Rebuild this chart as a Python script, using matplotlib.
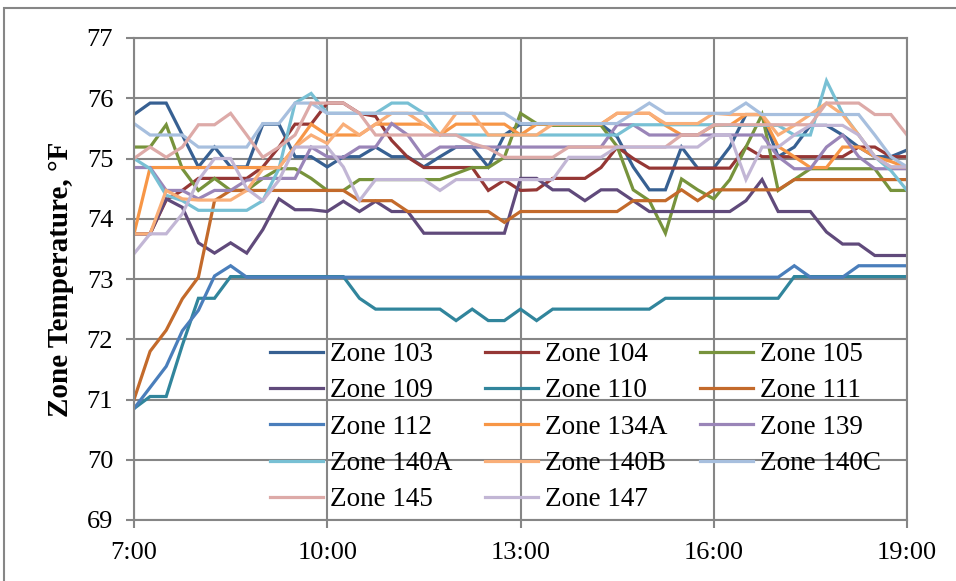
import matplotlib
matplotlib.use('Agg')
import matplotlib.pyplot as plt
import numpy as np
from matplotlib.patches import Rectangle

plt.rcParams['font.family'] = ['Liberation Serif', 'DejaVu Serif']

# 15-minute readings, 7:00 to 19:00
hours = np.arange(7, 19.001, 0.25)

zone_names = ['Zone 103', 'Zone 104', 'Zone 105', 'Zone 109', 'Zone 110', 'Zone 111',
              'Zone 112', 'Zone 134A', 'Zone 139', 'Zone 140A', 'Zone 140B', 'Zone 140C',
              'Zone 145', 'Zone 147']

zone_103 = [75.73, 75.92, 75.92, 75.39, 74.86, 75.19, 74.86, 74.86, 75.57, 75.57, 75.03, 75.03,
            74.86, 75.03, 75.03, 75.19, 75.03, 75.03, 74.86, 75.03, 75.19, 75.19, 74.86, 75.39,
            75.57, 75.57, 75.57, 75.57, 75.57, 75.57, 75.36, 74.86, 74.48, 74.48, 75.19, 74.84,
            74.84, 75.19, 75.73, 75.73, 75.03, 75.19, 75.55, 75.55, 75.39, 75.19, 75.03, 75.03,
            75.14]
zone_104 = [73.75, 73.75, 74.31, 74.47, 74.67, 74.67, 74.67, 74.67, 74.86, 75.19, 75.57, 75.57,
            75.92, 75.92, 75.75, 75.70, 75.30, 75.02, 74.85, 74.85, 74.85, 74.85, 74.47, 74.64,
            74.47, 74.48, 74.67, 74.67, 74.67, 74.85, 75.19, 75.00, 74.84, 74.84, 74.84, 74.84,
            74.84, 74.84, 75.19, 75.03, 75.03, 75.03, 75.03, 75.03, 75.03, 75.19, 75.19, 75.03,
            75.03]
zone_105 = [75.19, 75.19, 75.56, 74.83, 74.47, 74.67, 74.47, 74.47, 74.67, 74.83, 74.83, 74.67,
            74.47, 74.47, 74.65, 74.65, 74.65, 74.65, 74.65, 74.65, 74.75, 74.85, 74.85, 75.02,
            75.75, 75.58, 75.55, 75.55, 75.55, 75.55, 75.20, 74.48, 74.30, 73.76, 74.66, 74.48,
            74.33, 74.65, 75.19, 75.73, 74.47, 74.65, 74.83, 74.83, 74.83, 74.83, 74.83, 74.47,
            74.47]
zone_109 = [73.75, 73.75, 74.33, 74.19, 73.60, 73.43, 73.60, 73.43, 73.82, 74.33, 74.15, 74.15,
            74.12, 74.29, 74.12, 74.29, 74.12, 74.12, 73.76, 73.76, 73.76, 73.76, 73.76, 73.76,
            74.67, 74.67, 74.48, 74.48, 74.30, 74.48, 74.48, 74.30, 74.12, 74.12, 74.12, 74.12,
            74.12, 74.12, 74.30, 74.65, 74.12, 74.12, 74.12, 73.78, 73.58, 73.58, 73.39, 73.39,
            73.39]
zone_110 = [70.85, 71.05, 71.05, 71.90, 72.68, 72.68, 73.04, 73.04, 73.04, 73.04, 73.04, 73.04,
            73.04, 73.04, 72.68, 72.50, 72.50, 72.50, 72.50, 72.50, 72.31, 72.50, 72.31, 72.31,
            72.50, 72.31, 72.50, 72.50, 72.50, 72.50, 72.50, 72.50, 72.50, 72.68, 72.68, 72.68,
            72.68, 72.68, 72.68, 72.68, 72.68, 73.04, 73.04, 73.04, 73.04, 73.04, 73.04, 73.04,
            73.04]
zone_111 = [71.00, 71.80, 72.15, 72.67, 73.03, 74.30, 74.47, 74.47, 74.47, 74.47, 74.47, 74.47,
            74.47, 74.47, 74.30, 74.30, 74.30, 74.12, 74.12, 74.12, 74.12, 74.12, 74.12, 73.94,
            74.12, 74.12, 74.12, 74.12, 74.12, 74.12, 74.12, 74.30, 74.30, 74.30, 74.48, 74.30,
            74.48, 74.48, 74.48, 74.48, 74.48, 74.65, 74.65, 74.65, 74.65, 74.65, 74.65, 74.65,
            74.65]
zone_112 = [70.85, 71.20, 71.55, 72.14, 72.48, 73.05, 73.22, 73.03, 73.03, 73.03, 73.03, 73.03,
            73.03, 73.03, 73.03, 73.03, 73.03, 73.03, 73.03, 73.03, 73.03, 73.03, 73.03, 73.03,
            73.03, 73.03, 73.03, 73.03, 73.03, 73.03, 73.03, 73.03, 73.03, 73.03, 73.03, 73.03,
            73.03, 73.03, 73.03, 73.03, 73.03, 73.22, 73.03, 73.03, 73.03, 73.22, 73.22, 73.22,
            73.22]
zone_134a = [73.75, 74.85, 74.85, 74.85, 74.85, 74.85, 74.85, 74.85, 74.85, 74.85, 75.20, 75.57,
             75.39, 75.39, 75.39, 75.57, 75.57, 75.57, 75.57, 75.39, 75.57, 75.57, 75.57, 75.57,
             75.39, 75.57, 75.57, 75.57, 75.57, 75.57, 75.75, 75.75, 75.75, 75.55, 75.39, 75.39,
             75.55, 75.55, 75.73, 75.73, 75.20, 75.03, 74.85, 74.85, 75.19, 75.19, 75.03, 74.95,
             74.85]
zone_139 = [74.85, 74.85, 74.47, 74.47, 74.33, 74.47, 74.47, 74.64, 74.67, 74.67, 74.67, 75.19,
            75.03, 75.02, 75.19, 75.19, 75.58, 75.39, 75.02, 75.19, 75.19, 75.19, 75.19, 75.19,
            75.19, 75.19, 75.19, 75.19, 75.19, 75.19, 75.56, 75.56, 75.39, 75.39, 75.39, 75.39,
            75.39, 75.39, 75.39, 75.39, 75.03, 74.83, 74.83, 75.19, 75.39, 75.03, 74.83, 74.83,
            74.83]
zone_140a = [75.00, 74.83, 74.39, 74.30, 74.14, 74.14, 74.14, 74.14, 74.30, 74.83, 75.92, 76.08,
             75.75, 75.75, 75.75, 75.75, 75.92, 75.92, 75.75, 75.39, 75.39, 75.39, 75.39, 75.39,
             75.39, 75.39, 75.39, 75.39, 75.39, 75.39, 75.39, 75.56, 75.56, 75.56, 75.56, 75.56,
             75.56, 75.55, 75.55, 75.55, 75.55, 75.39, 75.39, 76.29, 75.75, 75.39, 75.03, 74.80,
             74.47]
zone_140b = [73.75, 73.75, 74.47, 74.33, 74.31, 74.31, 74.31, 74.47, 74.83, 74.85, 75.19, 75.39,
             75.25, 75.57, 75.39, 75.57, 75.75, 75.75, 75.57, 75.39, 75.75, 75.75, 75.39, 75.39,
             75.39, 75.39, 75.57, 75.57, 75.57, 75.57, 75.75, 75.75, 75.75, 75.58, 75.58, 75.58,
             75.75, 75.73, 75.73, 75.73, 75.39, 75.55, 75.73, 75.92, 75.73, 75.39, 75.03, 74.86,
             74.86]
zone_140c = [75.58, 75.39, 75.39, 75.39, 75.19, 75.19, 75.19, 75.19, 75.58, 75.58, 75.92, 75.92,
             75.75, 75.75, 75.75, 75.75, 75.75, 75.75, 75.75, 75.75, 75.75, 75.75, 75.75, 75.75,
             75.58, 75.58, 75.58, 75.58, 75.58, 75.58, 75.58, 75.75, 75.92, 75.75, 75.75, 75.75,
             75.75, 75.75, 75.92, 75.73, 75.73, 75.73, 75.73, 75.73, 75.73, 75.73, 75.39, 75.03,
             74.86]
zone_145 = [75.00, 75.19, 75.02, 75.19, 75.56, 75.56, 75.75, 75.39, 75.02, 75.19, 75.39, 75.92,
            75.92, 75.92, 75.75, 75.39, 75.39, 75.39, 75.39, 75.39, 75.39, 75.25, 75.17, 75.02,
            75.02, 75.02, 75.02, 75.19, 75.19, 75.19, 75.19, 75.19, 75.19, 75.19, 75.39, 75.39,
            75.56, 75.56, 75.56, 75.56, 75.56, 75.56, 75.56, 75.92, 75.92, 75.92, 75.73, 75.73,
            75.39]
zone_147 = [73.42, 73.75, 73.75, 74.08, 74.64, 75.00, 75.00, 74.50, 74.30, 74.64, 75.19, 75.19,
            75.19, 74.86, 74.30, 74.65, 74.65, 74.65, 74.65, 74.47, 74.65, 74.65, 74.65, 74.65,
            74.65, 74.65, 74.65, 75.02, 75.02, 75.02, 75.19, 75.19, 75.19, 75.19, 75.19, 75.19,
            75.39, 75.39, 74.65, 75.19, 75.19, 75.39, 75.55, 75.55, 75.55, 75.39, 75.03, 74.86,
            74.86]

zone_data = [zone_103, zone_104, zone_105, zone_109, zone_110, zone_111, zone_112,
             zone_134a, zone_139, zone_140a, zone_140b, zone_140c, zone_145, zone_147]

zone_colors = ['#376092', '#953735', '#77933C', '#604A7B', '#31859C', '#C36A2B',
               '#4A7EBB', '#F79646', '#9A85B8', '#78C0D4', '#F9AE78', '#A7BFDE',
               '#DDAAA8', '#C2B6D5']

fig = plt.figure(figsize=(9.56, 5.81), dpi=100)
ax = fig.add_axes([134 / 956, 1 - 520 / 581, 773 / 956, 482 / 581])

grid_color = '#868686'
lines = []
for name, vals, col in zip(zone_names, zone_data, zone_colors):
    ln, = ax.plot(hours, vals, color=col, lw=2.3, label=name, solid_joinstyle='miter')
    lines.append(ln)

ax.set_xlim(7, 19)
ax.set_ylim(69, 77)
ax.set_xticks([7, 10, 13, 16, 19])
ax.set_xticklabels(['7:00', '10:00', '13:00', '16:00', '19:00'])
ax.set_yticks(range(69, 78))
ax.grid(True, color=grid_color, lw=1.5)
ax.set_axisbelow(True)
for s in ax.spines.values():
    s.set_color(grid_color)
    s.set_linewidth(1.5)
ax.tick_params(axis='both', colors=grid_color, labelcolor='black', labelsize=19,
               length=6, width=1.5, direction='out')
ax.tick_params(axis='y', pad=9)
ax.tick_params(axis='x', pad=10)
ax.set_ylabel('Zone Temperature, °F', fontsize=21, fontweight='bold', labelpad=9)

# legend filled row by row, three columns
order = [0, 3, 6, 9, 12, 1, 4, 7, 10, 13, 2, 5, 8, 11]
leg = ax.legend([lines[i] for i in order], [zone_names[i] for i in order],
                ncol=3, loc='upper left', bbox_to_anchor=(270 / 956, 1 - 342 / 581),
                bbox_transform=fig.transFigure, frameon=False, fontsize=19.5,
                handlelength=1.95, handletextpad=0.25, columnspacing=1.22,
                labelspacing=0.42, borderpad=0, borderaxespad=0)

# outer chart border
fig.add_artist(Rectangle((4 / 956, -0.05), 1.2, 1 - 8 / 581 + 0.05,
                         transform=fig.transFigure, fill=False,
                         edgecolor=grid_color, lw=1.5))

fig.savefig('out.png', dpi=100)
